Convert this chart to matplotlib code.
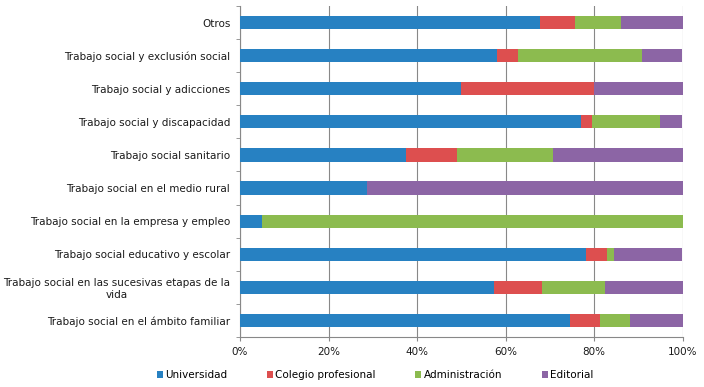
import numpy as np
import matplotlib.pyplot as plt
from matplotlib.ticker import FixedLocator, PercentFormatter

categories = [
    "Trabajo social en el ámbito familiar",
    "Trabajo social en las sucesivas etapas de la\nvida",
    "Trabajo social educativo y escolar",
    "Trabajo social en la empresa y empleo",
    "Trabajo social en el medio rural",
    "Trabajo social sanitario",
    "Trabajo social y discapacidad",
    "Trabajo social y adicciones",
    "Trabajo social y exclusión social",
    "Otros",
]
series_names = ["Universidad", "Colegio profesional", "Administración", "Editorial"]
universidad = [74.5, 57.5, 78.2, 5.0, 28.6, 37.6, 77.0, 50.0, 58.1, 67.8]
colegio = [6.8, 10.7, 4.7, 0.0, 0.0, 11.4, 2.6, 30.0, 4.7, 7.9]
administracion = [6.8, 14.2, 1.6, 95.0, 0.0, 21.8, 15.3, 0.0, 28.1, 10.4]
editorial = [11.9, 17.6, 15.5, 0.0, 71.4, 29.2, 5.1, 20.0, 9.1, 13.9]
colors = ["#2781c2", "#dd4f4f", "#8cbb4f", "#8c65a5"]

fig = plt.figure(figsize=(7.04, 3.87), dpi=100)
ax = fig.add_axes([240 / 704, 1 - 337 / 387, 442.5 / 704, 331 / 387])

y = np.arange(len(categories))
left = np.zeros(len(categories))
for name, vals, col in zip(series_names, [universidad, colegio, administracion, editorial], colors):
    vals = np.array(vals, dtype=float)
    ax.barh(y, vals, left=left, height=0.4, color=col, label=name, zorder=3)
    left += vals

ax.set_xlim(0, 100)
ax.set_ylim(-0.5, len(categories) - 0.5)
ax.set_xticks(np.arange(0, 101, 20))
ax.xaxis.set_major_formatter(PercentFormatter(decimals=0))
ax.set_yticks(y)
ax.set_yticklabels(categories, fontsize=7.5, color="#1a1a1a", multialignment="center")
ax.yaxis.set_minor_locator(FixedLocator(np.arange(-0.5, len(categories), 1)))
ax.tick_params(axis="y", which="major", length=0, pad=7)
ax.tick_params(axis="y", which="minor", length=3, color="#888888")
ax.tick_params(axis="x", length=3, color="#888888", labelsize=7.5, labelcolor="#1a1a1a", pad=4)
ax.grid(True, axis="x", color="#888888", linewidth=0.8, zorder=0)
for s in ["top", "right"]:
    ax.spines[s].set_visible(False)
for s in ["left", "bottom"]:
    ax.spines[s].set_color("#888888")

fig.legend(loc="center", bbox_to_anchor=(375 / 704, 1 - 375 / 387), ncol=4, frameon=False,
           fontsize=7.5, handlelength=0.6, handleheight=0.6, handletextpad=0.2,
           columnspacing=3.8)

fig.savefig("out.png", dpi=100)
